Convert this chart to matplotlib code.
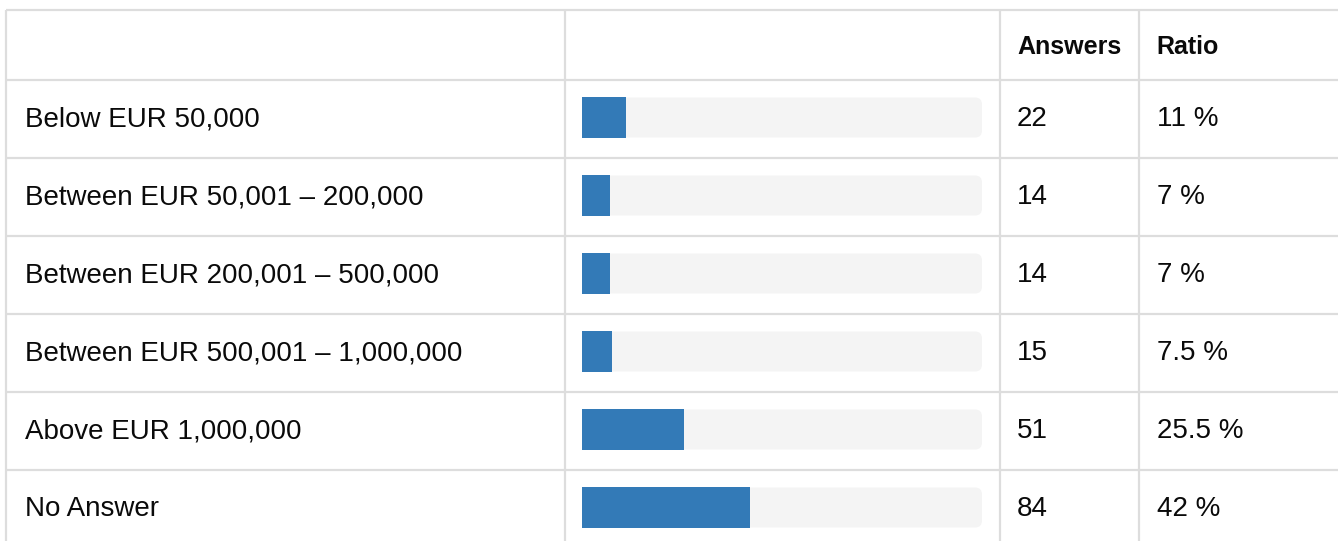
import matplotlib
matplotlib.use("Agg")
import matplotlib.pyplot as plt
from matplotlib.patches import FancyBboxPatch

categories = [
	"Below EUR 50,000",
	"Between EUR 50,001 \u2013 200,000",
	"Between EUR 200,001 \u2013 500,000",
	"Between EUR 500,001 \u2013 1,000,000",
	"Above EUR 1,000,000",
	"No Answer",
]
answers = [22, 14, 14, 15, 51, 84]
ratios = [11, 7, 7, 7.5, 25.5, 42]
ratio_labels = ["11 %", "7 %", "7 %", "7.5 %", "25.5 %", "42 %"]
headers = ["", "", "Answers", "Ratio"]

W, H = 1338, 541
fig = plt.figure(figsize=(W / 100, H / 100), dpi=100)
ax = fig.add_axes([0, 0, 1, 1])
ax.set_xlim(0, W)
ax.set_ylim(H, 0)
ax.axis("off")

plt.rcParams["font.family"] = ["Liberation Sans", "DejaVu Sans"]

grid_col = "#dddddd"
bar_col = "#337ab7"
track_col = "#f4f4f4"
text_col = "#0a0a0a"

# table geometry (pixels)
top = 10
head_bot = 80
row_h = 78
col_x = [5.5, 565, 1000, 1139]
track_left, track_w, bar_h = 582, 400, 41

# grid lines
ax.plot([col_x[0], W], [top, top], color=grid_col, lw=1.6, solid_capstyle="butt")
for i in range(len(categories)):
	y = head_bot + row_h * i
	ax.plot([col_x[0], W], [y, y], color=grid_col, lw=1.6, solid_capstyle="butt")
for x in col_x:
	ax.plot([x, x], [top, H], color=grid_col, lw=1.6, solid_capstyle="butt")

# header
hy = (top + head_bot) / 2 + 1.5
for j, h in enumerate(headers):
	if h:
		ax.text(col_x[j] + 17, hy, h, fontsize=18, fontweight="bold", va="center", ha="left", color=text_col)

centers = [head_bot + row_h * (i + 0.5) for i in range(len(categories))]
bar_y = [c - 1.5 for c in centers]

# tracks
for y in bar_y:
	ax.add_patch(FancyBboxPatch((track_left, y - bar_h / 2 + 0.5), track_w, bar_h - 1,
		boxstyle="round,pad=0,rounding_size=7", fc=track_col, ec="none", zorder=2))

# bars
ax.barh(bar_y, [r * track_w / 100 for r in ratios], left=track_left, height=bar_h,
	color=bar_col, zorder=3)

for i, c in enumerate(centers):
	ax.text(25, c, categories[i], fontsize=20, va="center", ha="left", color=text_col)
	ax.text(col_x[2] + 17, c, str(answers[i]), fontsize=20, va="center", ha="left", color=text_col)
	ax.text(col_x[3] + 18, c, ratio_labels[i], fontsize=20, va="center", ha="left", color=text_col)

fig.savefig("out.png", dpi=100, facecolor="white")
